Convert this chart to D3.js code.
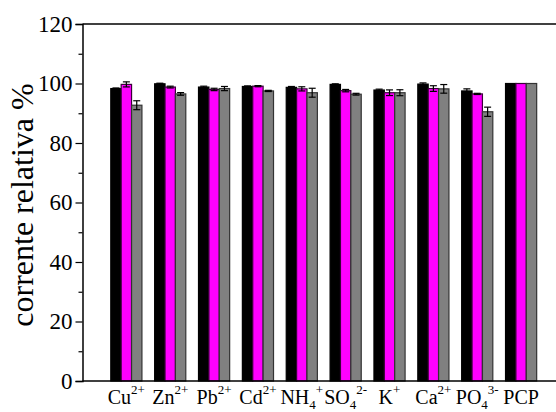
<!DOCTYPE html>
<html>
<head>
<meta charset="utf-8">
<script src="https://cdn.jsdelivr.net/npm/d3@7"></script>
<style>
  html, body { margin: 0; padding: 0; background: #fff; }
  svg { display: block; }
  svg text { font-family: "Liberation Serif", "Times New Roman", serif !important; }
</style>
</head>
<body>
<div id="chart"></div>
<script>
// ---- data ----
const categories = ["Cu", "Zn", "Pb", "Cd", "NH4", "SO4", "K", "Ca", "PO4", "PCP"];
const labelBase = ["Cu", "Zn", "Pb", "Cd", "NH", "SO", "K", "Ca", "PO", "PCP"];
const labelSub  = ["", "", "", "", "4", "4", "", "", "4", ""];
const labelSup  = ["2+", "2+", "2+", "2+", "+", "2-", "+", "2+", "3-", ""];
const seriesNames = ["s1", "s2", "s3"];
const series1 = [98.3, 99.9, 98.8, 99.0, 98.7, 99.7, 97.8, 99.8, 97.5, 100];
const series2 = [99.7, 98.8, 98.0, 99.1, 98.2, 97.6, 96.9, 98.3, 96.5, 100];
const series3 = [92.7, 96.5, 98.3, 97.5, 96.9, 96.4, 96.9, 98.2, 90.5, 100];
const error1 = [0.2, 0.2, 0.3, 0.2, 0.3, 0.2, 0.3, 0.4, 0.7, 0];
const error2 = [0.85, 0.3, 0.4, 0.2, 0.7, 0.4, 0.95, 0.95, 0.2, 0];
const error3 = [1.5, 0.45, 0.7, 0.2, 1.5, 0.3, 1.0, 1.45, 1.55, 0];
const yTicks = [0, 20, 40, 60, 80, 100, 120];
const yMinorTicks = [10, 30, 50, 70, 90, 110];
const yLabel = "corrente relativa %";

const seriesValues = [series1, series2, series3];
const seriesErrors = [error1, error2, error3];
const colors = ["#000000", "#ff00ff", "#808080"];
const strokes = ["#000000", "#3a003a", "#333333"];
const FONT = "Liberation Serif";

// ---- layout ----
const W = 556, H = 412;
const x0 = 82.5, yTop = 24, yBot = 381;
const step = 43.86;

const svg = d3.select("#chart").append("svg")
  .attr("width", W).attr("height", H);

const y = d3.scaleLinear().domain([0, 120]).range([yBot, yTop]);
const x = d3.scaleBand().domain(categories)
  .range([x0 + 0.5 * step, x0 + 10.5 * step])
  .paddingInner(0.29).paddingOuter(0.145);
const xs = d3.scaleBand().domain(seriesNames).range([0, x.bandwidth()]).padding(0);

// bars
seriesNames.forEach((s, si) => {
  const g = svg.append("g");
  g.selectAll("rect").data(categories).join("rect")
    .attr("x", c => x(c) + xs(s))
    .attr("y", (c, i) => y(seriesValues[si][i]))
    .attr("width", xs.bandwidth())
    .attr("height", (c, i) => y(0) - y(seriesValues[si][i]))
    .attr("fill", colors[si])
    .attr("stroke", strokes[si])
    .attr("stroke-width", 1.2);
  // error bars
  const eg = svg.append("g").attr("stroke", "#000").attr("stroke-width", 1.2);
  categories.forEach((c, i) => {
    const e = seriesErrors[si][i];
    if (!e) return;
    const cx = x(c) + xs(s) + xs.bandwidth() / 2;
    const v = seriesValues[si][i];
    const cap = 3.5;
    eg.append("line").attr("x1", cx).attr("x2", cx).attr("y1", y(v + e)).attr("y2", y(v - e));
    eg.append("line").attr("x1", cx - cap).attr("x2", cx + cap).attr("y1", y(v + e)).attr("y2", y(v + e));
    eg.append("line").attr("x1", cx - cap).attr("x2", cx + cap).attr("y1", y(v - e)).attr("y2", y(v - e));
  });
});

// frame lines
const xEnd = x0 + 11 * step;
svg.append("line").attr("x1", x0).attr("x2", xEnd).attr("y1", yTop).attr("y2", yTop)
  .attr("stroke", "#000").attr("stroke-width", 1.5);
svg.append("line").attr("x1", x0).attr("x2", xEnd).attr("y1", yBot).attr("y2", yBot)
  .attr("stroke", "#000").attr("stroke-width", 1.5);

// y axis
const yAxis = d3.axisLeft(y).tickValues(yTicks).tickSize(7).tickPadding(3).tickFormat(d3.format("d"));
const ga = svg.append("g").attr("transform", `translate(${x0},0)`).call(yAxis);
ga.attr("font-family", FONT).attr("font-size", 23);
ga.select(".domain").attr("stroke-width", 1.5);
ga.selectAll(".tick line").attr("stroke-width", 1.2);
ga.selectAll(".tick text")
  .attr("font-family", FONT)
  .attr("font-size", 23).attr("fill", "#000");
const yMinor = d3.axisLeft(y).tickValues(yMinorTicks).tickSize(4).tickFormat("");
const gm = svg.append("g").attr("transform", `translate(${x0},0)`).call(yMinor);
gm.select(".domain").remove();
gm.selectAll(".tick line").attr("stroke-width", 1.2);

// y label
svg.append("text")
  .attr("transform", `translate(33,${(77 + 333) / 2}) rotate(-90)`)
  .attr("text-anchor", "middle")
  .attr("font-family", FONT)
  .attr("font-size", 32)
  .text(yLabel);

// x labels
const xl = svg.append("g").attr("fill", "#000");
categories.forEach((c, i) => {
  const t = xl.append("text")
    .attr("x", x(c) + x.bandwidth() / 2)
    .attr("y", 404)
    .attr("text-anchor", "middle")
    .attr("font-family", FONT)
    .attr("font-size", 20);
  t.append("tspan").text(labelBase[i]);
  if (labelSub[i]) {
    t.append("tspan").attr("font-size", 13).attr("dy", 5).text(labelSub[i]);
    if (labelSup[i]) t.append("tspan").attr("font-size", 13).attr("dy", -15).text(labelSup[i]);
  } else if (labelSup[i]) {
    t.append("tspan").attr("font-size", 13).attr("dy", -10).text(labelSup[i]);
  }
});
</script>
</body>
</html>
